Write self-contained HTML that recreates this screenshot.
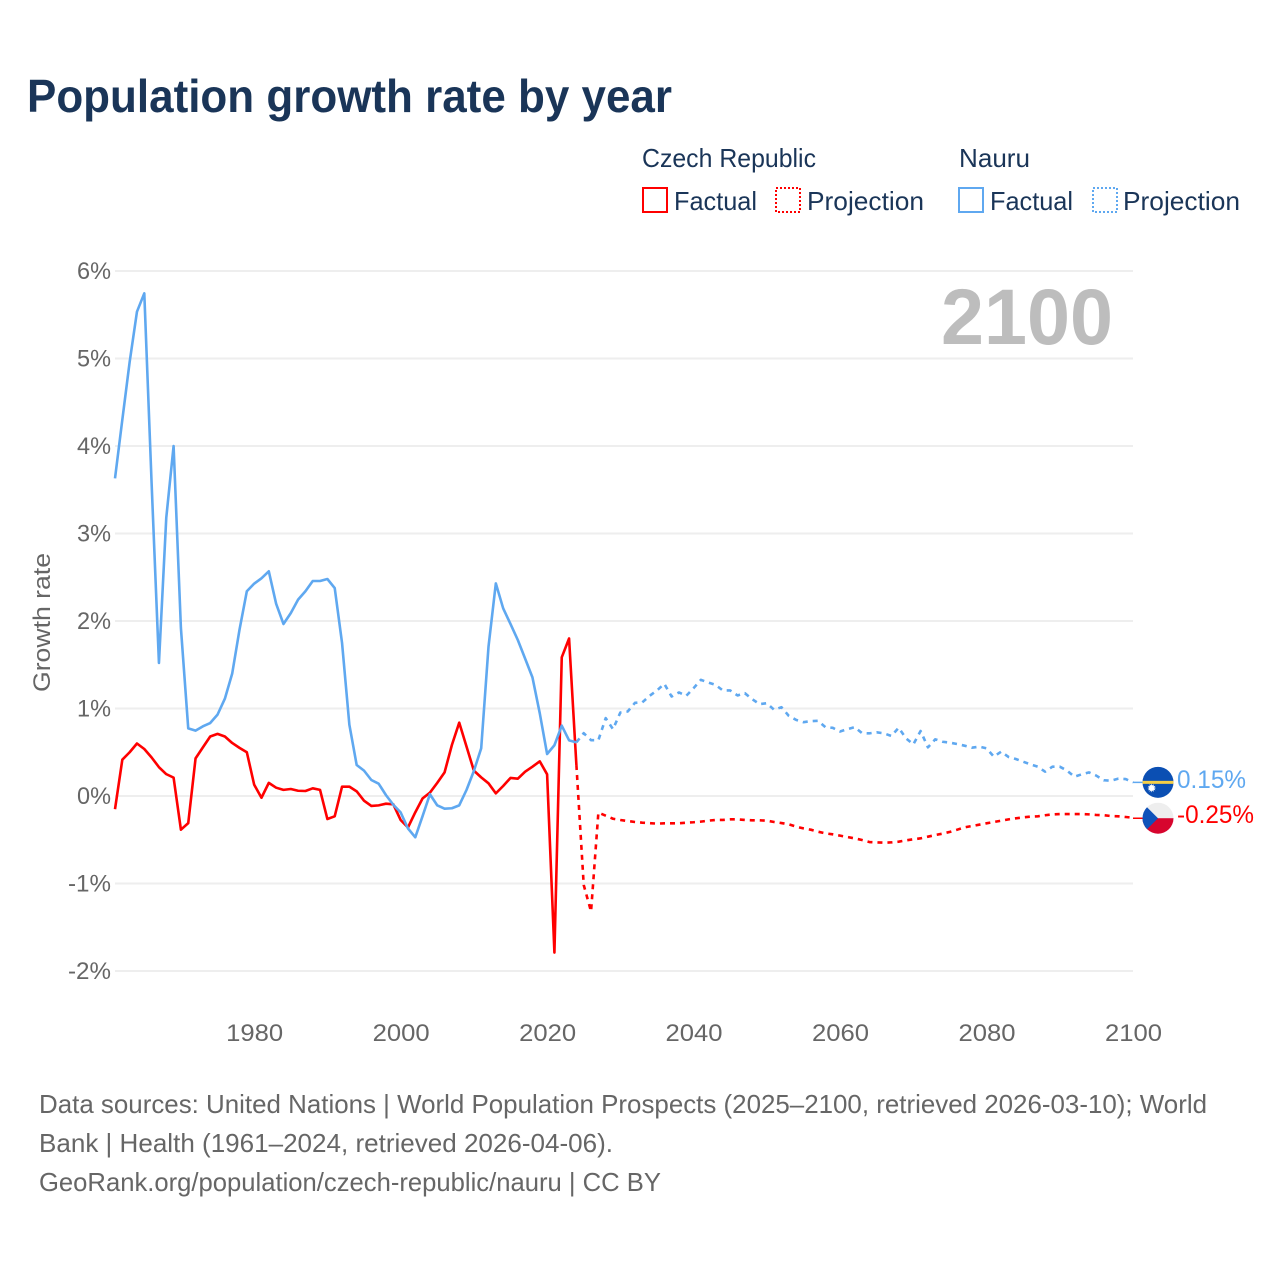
<!DOCTYPE html>
<html lang="en">
<head>
<meta charset="utf-8">
<title>Population growth rate by year</title>
<style>
html,body{margin:0;padding:0;background:#fff;width:1280px;height:1280px;overflow:hidden}
svg{display:block;font-family:"Liberation Sans",sans-serif}
</style>
</head>
<body>
<svg id="chart" xmlns="http://www.w3.org/2000/svg" width="1280" height="1280" viewBox="0 0 1280 1280">
  <defs>
    <clipPath id="clip-nauru"><circle id="clip-nauru-c" r="15.5"/></clipPath>
    <clipPath id="clip-czech"><circle id="clip-czech-c" r="15.5"/></clipPath>
  </defs>
  <rect width="1280" height="1280" fill="#fff"/>
  <text x="27" y="112" font-size="46" font-weight="700" fill="#1a3558" textLength="645" lengthAdjust="spacingAndGlyphs">Population growth rate by year</text>

  <g font-size="26" fill="#1a3558">
    <text x="642" y="167" textLength="174" lengthAdjust="spacingAndGlyphs">Czech Republic</text>
    <text x="959" y="167" textLength="71" lengthAdjust="spacingAndGlyphs">Nauru</text>
    <rect x="643" y="188" width="24" height="24" fill="none" stroke="#ff0000" stroke-width="2"/>
    <text x="674" y="210" textLength="83" lengthAdjust="spacingAndGlyphs">Factual</text>
    <rect x="776" y="188" width="24" height="24" fill="none" stroke="#ff0000" stroke-width="2" stroke-dasharray="2 2"/>
    <text x="807" y="210" textLength="117" lengthAdjust="spacingAndGlyphs">Projection</text>
    <rect x="959" y="188" width="24" height="24" fill="none" stroke="#5fa8f0" stroke-width="2"/>
    <text x="990" y="210" textLength="83" lengthAdjust="spacingAndGlyphs">Factual</text>
    <rect x="1093" y="188" width="24" height="24" fill="none" stroke="#5fa8f0" stroke-width="2" stroke-dasharray="2 2"/>
    <text x="1123" y="210" textLength="117" lengthAdjust="spacingAndGlyphs">Projection</text>
  </g>

  <g id="grid"></g>
  <g id="yticks"></g>
  <g id="xticks"></g>
  <text transform="translate(50,692) rotate(-90)" font-size="24" fill="#666" textLength="139" lengthAdjust="spacingAndGlyphs">Growth rate</text>
  <text x="941" y="344" font-size="79" font-weight="700" fill="#bdbdbd" textLength="172" lengthAdjust="spacingAndGlyphs">2100</text>

  <g id="series"></g>

  <g id="flag-nauru" clip-path="url(#clip-nauru)"></g>
  <g id="flag-czech" clip-path="url(#clip-czech)"></g>
  <g id="end-labels"></g>

  <g font-size="26" fill="#666">
    <text x="39" y="1113" textLength="1168" lengthAdjust="spacingAndGlyphs">Data sources: United Nations | World Population Prospects (2025–2100, retrieved 2026-03-10); World</text>
    <text x="39" y="1152" textLength="574" lengthAdjust="spacingAndGlyphs">Bank | Health (1961–2024, retrieved 2026-04-06).</text>
    <text x="39" y="1191" textLength="622" lengthAdjust="spacingAndGlyphs">GeoRank.org/population/czech-republic/nauru | CC BY</text>
  </g>
</svg>
<script>
const yTickValues = [6, 5, 4, 3, 2, 1, 0, -1, -2];
const yTickLabels = ["6%", "5%", "4%", "3%", "2%", "1%", "0%", "-1%", "-2%"];
const xTickValues = [1980, 2000, 2020, 2040, 2060, 2080, 2100];
const factualStartYear = 1961;
const projectionStartYear = 2024;
const czechFactual = [-0.15,0.415,0.50,0.60,0.537,0.44,0.33,0.25,0.21,-0.385,-0.31,0.43,0.556,0.68,0.71,0.68,0.606,0.55,0.50,0.13,-0.02,0.15,0.095,0.07,0.08,0.06,0.057,0.088,0.07,-0.263,-0.232,0.107,0.107,0.053,-0.053,-0.114,-0.107,-0.088,-0.095,-0.274,-0.36,-0.187,-0.027,0.038,0.15,0.27,0.583,0.838,0.564,0.29,0.213,0.145,0.03,0.114,0.206,0.198,0.278,0.335,0.396,0.248,-1.79,1.585,1.80,0.354];
const czechProjection = [0.354,-1.017,-1.32,-0.19,-0.225,-0.26,-0.274,-0.286,-0.297,-0.305,-0.31,-0.316,-0.312,-0.312,-0.312,-0.305,-0.30,-0.293,-0.282,-0.274,-0.274,-0.267,-0.267,-0.274,-0.278,-0.278,-0.282,-0.297,-0.309,-0.324,-0.35,-0.37,-0.385,-0.408,-0.427,-0.438,-0.453,-0.469,-0.484,-0.503,-0.526,-0.53,-0.533,-0.53,-0.522,-0.507,-0.495,-0.484,-0.465,-0.446,-0.43,-0.41,-0.385,-0.358,-0.343,-0.328,-0.312,-0.297,-0.282,-0.267,-0.255,-0.244,-0.236,-0.232,-0.22,-0.21,-0.206,-0.206,-0.206,-0.206,-0.21,-0.217,-0.22,-0.229,-0.232,-0.24,-0.248];
const nauruFactual = [3.63,4.30,4.96,5.535,5.745,3.57,1.52,3.18,4.0,1.92,0.773,0.747,0.796,0.834,0.93,1.112,1.398,1.90,2.34,2.427,2.488,2.568,2.198,1.966,2.09,2.244,2.34,2.457,2.457,2.48,2.377,1.75,0.815,0.354,0.29,0.183,0.141,0.01,-0.10,-0.187,-0.37,-0.472,-0.229,0.02,-0.107,-0.145,-0.14,-0.107,0.07,0.286,0.545,1.707,2.43,2.145,1.966,1.783,1.57,1.356,0.945,0.48,0.58,0.804,0.636,0.613];
const nauruProjection = [0.613,0.718,0.638,0.638,0.89,0.764,0.954,0.966,1.065,1.07,1.145,1.206,1.282,1.137,1.183,1.145,1.232,1.328,1.297,1.27,1.206,1.206,1.149,1.175,1.107,1.05,1.06,0.985,1.015,0.916,0.87,0.844,0.855,0.859,0.787,0.779,0.737,0.764,0.787,0.718,0.716,0.728,0.716,0.686,0.78,0.66,0.59,0.743,0.556,0.648,0.62,0.61,0.594,0.575,0.552,0.564,0.545,0.45,0.507,0.446,0.423,0.392,0.362,0.335,0.278,0.335,0.335,0.29,0.22,0.248,0.27,0.232,0.18,0.175,0.198,0.194,0.156];
const endLabels = ["0.15%", "-0.25%"];

const NS = "http://www.w3.org/2000/svg";
const RED = "#ff0000";
const BLUE = "#5fa8f0";
const x = yr => 115 + (yr - 1961) * (1018 / 139);
const y = v => 796 - v * 87.5;
function mk(tag, parent, attrs) {
  const e = document.createElementNS(NS, tag);
  for (const k in attrs) e.setAttribute(k, attrs[k]);
  parent.appendChild(e);
  return e;
}
const grid = document.getElementById("grid");
const yticks = document.getElementById("yticks");
const xticks = document.getElementById("xticks");
const seriesG = document.getElementById("series");

yTickValues.forEach((v, i) => {
  const l = mk("line", grid, {x1: x(1961), x2: x(2100), y1: y(v), y2: y(v), stroke: "#eeeeee", "stroke-width": 2});
  
  
  const t = mk("text", yticks, {x: 111, y: y(v) + 8, "text-anchor": "end", "font-size": 24, fill: "#666",
    textLength: yTickLabels[i].length === 2 ? 34 : 43, lengthAdjust: "spacingAndGlyphs"});
  
  
  t.textContent = yTickLabels[i];
});
xTickValues.forEach(v => {
  const t = mk("text", xticks, {x: x(v) + 0.5, y: 1041, "text-anchor": "middle", "font-size": 24, fill: "#666",
    textLength: 57, lengthAdjust: "spacingAndGlyphs"});
  
  
  t.textContent = v;
});

function pathFor(values, startYear) {
  return values.map((v, i) => (i ? "L" : "M") + x(startYear + i).toFixed(2) + " " + y(v).toFixed(2)).join("");
}
function drawLine(values, startYear, color, dashed) {
  const p = mk("path", seriesG, {d: pathFor(values, startYear), fill: "none", stroke: color, "stroke-width": 2.6, "stroke-linejoin": "round"});
  if (dashed) p.setAttribute("stroke-dasharray", "5 5");
  return p;
}
const pNauruProj = drawLine(nauruProjection, projectionStartYear, BLUE, true);


const pCzechFact = drawLine(czechFactual, factualStartYear, RED, false);


const pCzechProj = drawLine(czechProjection, projectionStartYear, RED, true);


const pNauruFact = drawLine(nauruFactual, factualStartYear, BLUE, false);



const lastYear = projectionStartYear + czechProjection.length - 1;
const nauruLast = nauruProjection[nauruProjection.length - 1];
const czechLast = czechProjection[czechProjection.length - 1];
const flagX = x(lastYear) + 25;
const nauruY = y(nauruLast);
const czechY = y(czechLast) + 0.5;

const connN = mk("line", seriesG, {x1: x(lastYear), x2: flagX, y1: nauruY, y2: nauruY, stroke: BLUE, "stroke-width": 1.5});


const connC = mk("line", seriesG, {x1: x(lastYear), x2: flagX, y1: czechY, y2: czechY, stroke: RED, "stroke-width": 1.5});



const cn = document.getElementById("clip-nauru-c");
cn.setAttribute("cx", flagX); cn.setAttribute("cy", nauruY);
const cc = document.getElementById("clip-czech-c");
cc.setAttribute("cx", flagX); cc.setAttribute("cy", czechY);

const fN = document.getElementById("flag-nauru");
mk("rect", fN, {x: flagX - 16, y: nauruY - 16, width: 32, height: 32, fill: "#0b4fb3"});
mk("rect", fN, {x: flagX - 16, y: nauruY - 1.5, width: 32, height: 3, fill: "#f5cf47"});
const starPts = [];
for (let i = 0; i < 24; i++) {
  const r = i % 2 ? 2.6 : 4.4;
  const a = i * Math.PI / 12;
  starPts.push((flagX - 6.3 + r * Math.cos(a)).toFixed(2) + "," + (nauruY + 5.7 + r * Math.sin(a)).toFixed(2));
}
mk("polygon", fN, {points: starPts.join(" "), fill: "#fff"});

const fC = document.getElementById("flag-czech");
mk("rect", fC, {x: flagX - 16, y: czechY - 16, width: 32, height: 16, fill: "#eeeeee"});
mk("rect", fC, {x: flagX - 16, y: czechY, width: 32, height: 16, fill: "#d7052e"});
mk("polygon", fC, {points: `${flagX - 16},${czechY - 16} ${flagX},${czechY} ${flagX - 16},${czechY + 16}`, fill: "#0f52ba"});

const eg = document.getElementById("end-labels");
const lN = mk("text", eg, {x: 1177, y: nauruY + 5.5, "font-size": 25, fill: BLUE, textLength: 69, lengthAdjust: "spacingAndGlyphs"});


lN.textContent = endLabels[0];
const lC = mk("text", eg, {x: 1177, y: czechY + 5, "font-size": 25, fill: RED, textLength: 77, lengthAdjust: "spacingAndGlyphs"});


lC.textContent = endLabels[1];
</script>
</body>
</html>
